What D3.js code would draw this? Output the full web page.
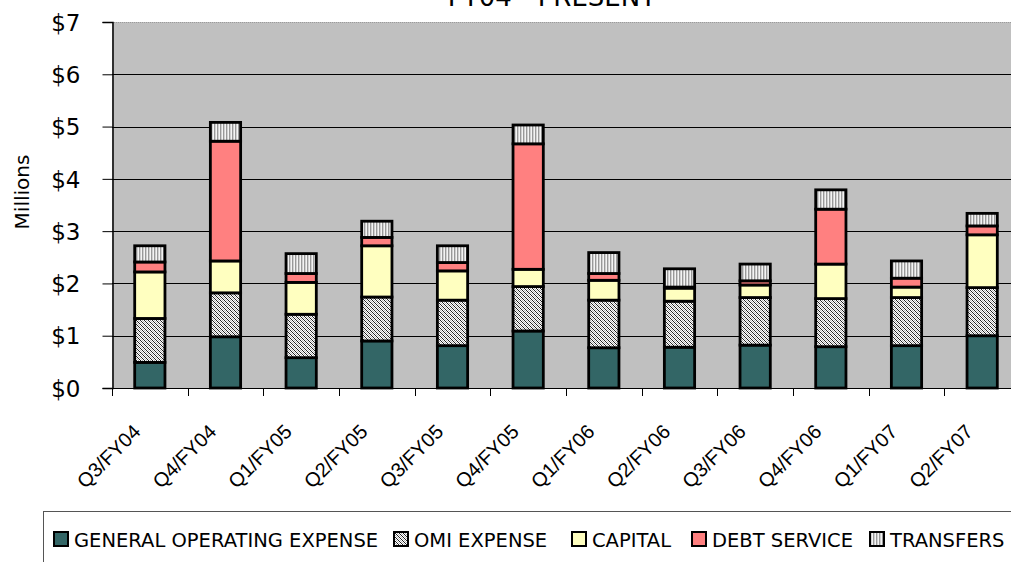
<!DOCTYPE html>
<html>
<head>
<meta charset="utf-8">
<script src="https://cdn.jsdelivr.net/npm/d3@7"></script>
<style>
  html, body { margin: 0; padding: 0; background: #fff; }
  svg { display: block; }
  .comic { font-family: "Comic Sans MS", "DejaVu Sans", sans-serif; }
  .arial { font-family: "Liberation Sans", Arial, sans-serif; }
</style>
</head>
<body>
<svg id="chart" width="1011" height="562"></svg>
<script>
// Quarterly spending by category, in millions of dollars
const categories = ["Q3/FY04","Q4/FY04","Q1/FY05","Q2/FY05","Q3/FY05","Q4/FY05",
                    "Q1/FY06","Q2/FY06","Q3/FY06","Q4/FY06","Q1/FY07","Q2/FY07"];
const generalOperating = [0.49, 0.98, 0.58, 0.90, 0.81, 1.09, 0.77, 0.78, 0.82, 0.79, 0.81, 1.00];
const omiExpense       = [0.84, 0.84, 0.83, 0.84, 0.87, 0.85, 0.91, 0.88, 0.91, 0.92, 0.92, 0.92];
const capital          = [0.89, 0.61, 0.61, 0.98, 0.56, 0.33, 0.38, 0.25, 0.24, 0.66, 0.20, 1.01];
const debtService      = [0.19, 2.29, 0.17, 0.16, 0.16, 2.40, 0.13, 0.02, 0.08, 1.05, 0.17, 0.17];
const transfers        = [0.31, 0.36, 0.38, 0.31, 0.32, 0.36, 0.40, 0.35, 0.32, 0.37, 0.33, 0.24];
const seriesNames = ["GENERAL OPERATING EXPENSE", "OMI EXPENSE", "CAPITAL", "DEBT SERVICE", "TRANSFERS"];
const yTickValues = [0, 1, 2, 3, 4, 5, 6, 7];
const titleText = "FY04 - PRESENT";
const yAxisTitle = "Millions";

const seriesKeys = ["goe", "omi", "cap", "debt", "trans"];
const rows = categories.map((c, i) => ({
  category: c,
  goe: generalOperating[i],
  omi: omiExpense[i],
  cap: capital[i],
  debt: debtService[i],
  trans: transfers[i]
}));

const svg = d3.select("#chart");

// Fill patterns for the hatched series
const defs = svg.append("defs");
const omiPat = defs.append("pattern")
  .attr("id", "omiHatch").attr("patternUnits", "userSpaceOnUse")
  .attr("width", 4).attr("height", 4);
omiPat.append("rect").attr("width", 4).attr("height", 4).attr("fill", "#ffffff");
[[0,0],[1,1],[2,2],[3,3],[2,0],[3,1],[0,2],[1,3]].forEach(([px, py], k) => {
  omiPat.append("rect").attr("x", px).attr("y", py).attr("width", 1).attr("height", 1)
    .attr("fill", k < 4 ? "#222222" : "#b4b4b4");
});
const trPat = defs.append("pattern")
  .attr("id", "transStripe").attr("patternUnits", "userSpaceOnUse")
  .attr("width", 3).attr("height", 3);
trPat.append("rect").attr("width", 3).attr("height", 3).attr("fill", "#f4f4f4");
trPat.append("rect").attr("x", 1).attr("width", 1).attr("height", 3).attr("fill", "#999999");
trPat.append("rect").attr("x", 2).attr("width", 1).attr("height", 3).attr("fill", "#d0d0d0");

const fills = {
  goe: "#336666",
  omi: "url(#omiHatch)",
  cap: "#ffffc0",
  debt: "#ff8080",
  trans: "url(#transStripe)"
};

const plot = { left: 112, right: 1020, top: 22, bottom: 388 };

const x = d3.scaleBand()
  .domain(categories)
  .range([plot.left, plot.right])
  .paddingInner(0.6)
  .paddingOuter(0.3);

const y = d3.scaleLinear()
  .domain([0, 7])
  .range([plot.bottom, plot.top]);

// Plot background
svg.append("rect")
  .attr("x", plot.left).attr("y", plot.top)
  .attr("width", plot.right - plot.left).attr("height", plot.bottom - plot.top)
  .attr("fill", "#c0c0c0");

// Horizontal gridlines
svg.append("g")
  .selectAll("line")
  .data(yTickValues.filter(v => v > 0 && v < 7))
  .join("line")
  .attr("x1", plot.left).attr("x2", plot.right)
  .attr("y1", d => Math.round(y(d)) + 0.5).attr("y2", d => Math.round(y(d)) + 0.5)
  .attr("stroke", "#000").attr("stroke-width", 1);

// Top dotted border
svg.append("line")
  .attr("x1", plot.left).attr("x2", plot.right)
  .attr("y1", plot.top + 0.5).attr("y2", plot.top + 0.5)
  .attr("stroke", "#9a9a9a").attr("stroke-dasharray", "1,1");

// Stacked bars
const stacked = d3.stack().keys(seriesKeys)(rows);
svg.append("g")
  .selectAll("g")
  .data(stacked)
  .join("g")
  .attr("fill", d => fills[d.key])
  .selectAll("rect")
  .data(d => d)
  .join("rect")
  .attr("x", d => x(d.data.category))
  .attr("y", d => y(d[1]))
  .attr("width", x.bandwidth())
  .attr("height", d => y(d[0]) - y(d[1]))
  .attr("stroke", "#000")
  .attr("stroke-width", 2.8);

// Y axis
const yAxis = d3.axisLeft(y)
  .tickValues(yTickValues)
  .tickSize(10)
  .tickPadding(22)
  .tickFormat(d => "$" + d);
const yG = svg.append("g")
  .attr("transform", `translate(${plot.left + 0.5},0)`)
  .call(yAxis);
yG.select(".domain").attr("stroke", "#000").attr("stroke-width", 1.5);
yG.selectAll(".tick line").attr("stroke", "#000");
yG.selectAll(".tick text")
  .attr("class", "comic")
  .attr("font-size", 23)
  .attr("fill", "#000")
  .attr("dy", "0.36em");

// X axis: baseline and category-boundary ticks
const step = x.step();
const xStart = plot.left;
svg.append("line")
  .attr("x1", plot.left).attr("x2", plot.right)
  .attr("y1", plot.bottom + 0.5).attr("y2", plot.bottom + 0.5)
  .attr("stroke", "#000").attr("stroke-width", 1);
svg.append("g")
  .selectAll("line")
  .data(d3.range(categories.length + 1))
  .join("line")
  .attr("x1", i => Math.round(xStart + i * step) + 0.5)
  .attr("x2", i => Math.round(xStart + i * step) + 0.5)
  .attr("y1", plot.bottom).attr("y2", plot.bottom + 8)
  .attr("stroke", "#000");

// Rotated category labels
svg.append("g")
  .selectAll("text")
  .data(categories)
  .join("text")
  .attr("class", "arial")
  .attr("font-size", 20)
  .attr("text-anchor", "end")
  .attr("transform", d => `translate(${x(d) + x.bandwidth() / 2 - 8},${plot.bottom + 45}) rotate(-45)`)
  .text(d => d);

// Y axis title
svg.append("text")
  .attr("class", "comic")
  .attr("font-size", 20)
  .attr("text-anchor", "middle")
  .attr("transform", "translate(29,192) rotate(-90)")
  .text(yAxisTitle);

// Chart title (upper part runs off the top edge)
svg.append("text")
  .attr("class", "comic")
  .attr("font-size", 26)
  .attr("text-anchor", "middle")
  .attr("x", 552).attr("y", 6)
  .text(titleText);

// Legend
const legend = svg.append("g");
legend.append("rect")
  .attr("x", 43.5).attr("y", 511.5)
  .attr("width", 1000).attr("height", 80)
  .attr("fill", "#fff").attr("stroke", "#555").attr("stroke-width", 1);
const legendX = [53, 393, 571, 691, 869];
const items = legend.selectAll("g.item")
  .data(seriesKeys)
  .join("g")
  .attr("class", "item")
  .attr("transform", (d, i) => `translate(${legendX[i]},531)`);
items.append("rect")
  .attr("x", 1).attr("y", 1)
  .attr("width", 14).attr("height", 14)
  .attr("fill", d => fills[d])
  .attr("stroke", "#000").attr("stroke-width", 2);
items.append("text")
  .attr("class", "comic")
  .attr("font-size", 19.5)
  .attr("x", 21).attr("y", 16)
  .text((d, i) => seriesNames[i]);
</script>
</body>
</html>
